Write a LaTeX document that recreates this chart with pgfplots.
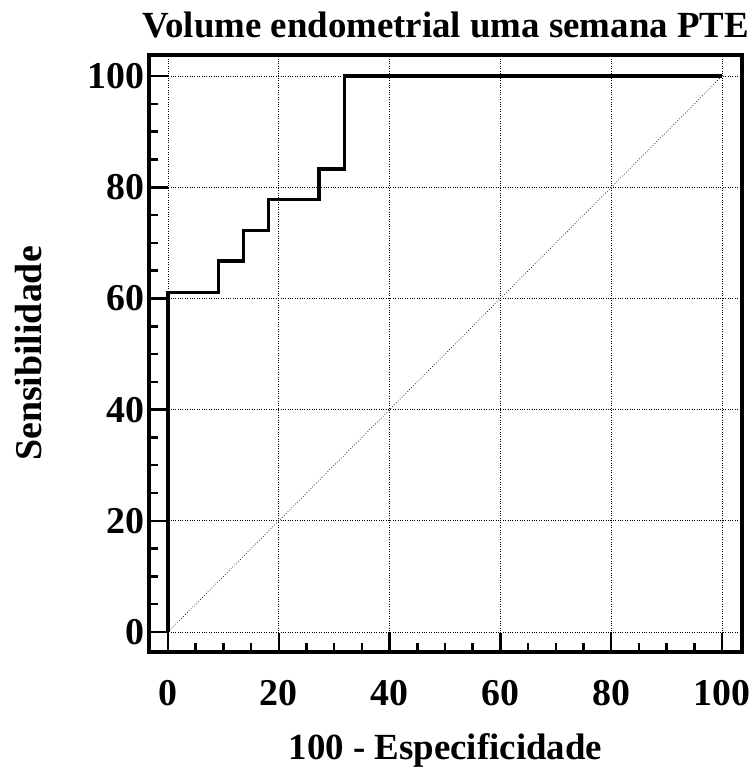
\documentclass[border=0pt]{standalone}
\usepackage{fontspec}
\setmainfont{Liberation Serif}
\usepackage{pgfplots}
\pgfplotsset{compat=1.18}
\begin{document}
\begin{tikzpicture}
\begin{axis}[
  scale only axis,
  width=593bp, height=597bp,
  xmin=-3.43, xmax=103.6,
  ymin=-3.6, ymax=103.8,
  axis line style={line width=4.5bp},
  xtick={0,20,40,60,80,100},
  ytick={0,20,40,60,80,100},
  minor tick num=3,
  xtick pos=bottom, ytick pos=left,
  tick align=inside,
  major tick length=19bp, minor tick length=9bp,
  every tick/.style={black, line width=2.5bp},
  grid=major,
  major grid style={black, dotted, line width=0.7bp},
  /pgf/number format/assume math mode=true,
  ticklabel style={font=\fontsize{38}{38}\selectfont\bfseries},
  xticklabel style={anchor=center, yshift=-41bp},
  yticklabel style={anchor=east, xshift=-1bp},
  title={Volume endometrial uma semana PTE},
  title style={font=\fontsize{37}{37}\selectfont\bfseries, at={(axis description cs:0.5,1)}, anchor=center, yshift=24bp},
  xlabel={100 - Especificidade},
  xlabel style={font=\fontsize{37}{37}\selectfont\bfseries, at={(axis description cs:0.5,0)}, anchor=center, yshift=-98bp},
  ylabel={Sensibilidade},
  ylabel style={font=\fontsize{38}{38}\selectfont\bfseries, at={(axis description cs:0,0.5)}, anchor=center, yshift=120bp},
  clip=false,
]
\coordinate (sw) at (rel axis cs:0,0);
\addplot[black, dotted, line width=0.7bp] coordinates {(0,0) (100,100)};
\addplot[black, line width=3.5bp, line join=miter] coordinates {
(0,0) (0,61.1) (9.09,61.1) (9.09,66.7) (13.64,66.7) (13.64,72.2) (18.18,72.2) (18.18,77.8) (27.27,77.8) (27.27,83.3) (31.82,83.3) (31.82,100) (100,100)};
\end{axis}
\pgfresetboundingbox
\path[use as bounding box] ([shift={(-149bp,-129bp)}]sw) rectangle ([shift={(606bp,652bp)}]sw);
\end{tikzpicture}
\end{document}
